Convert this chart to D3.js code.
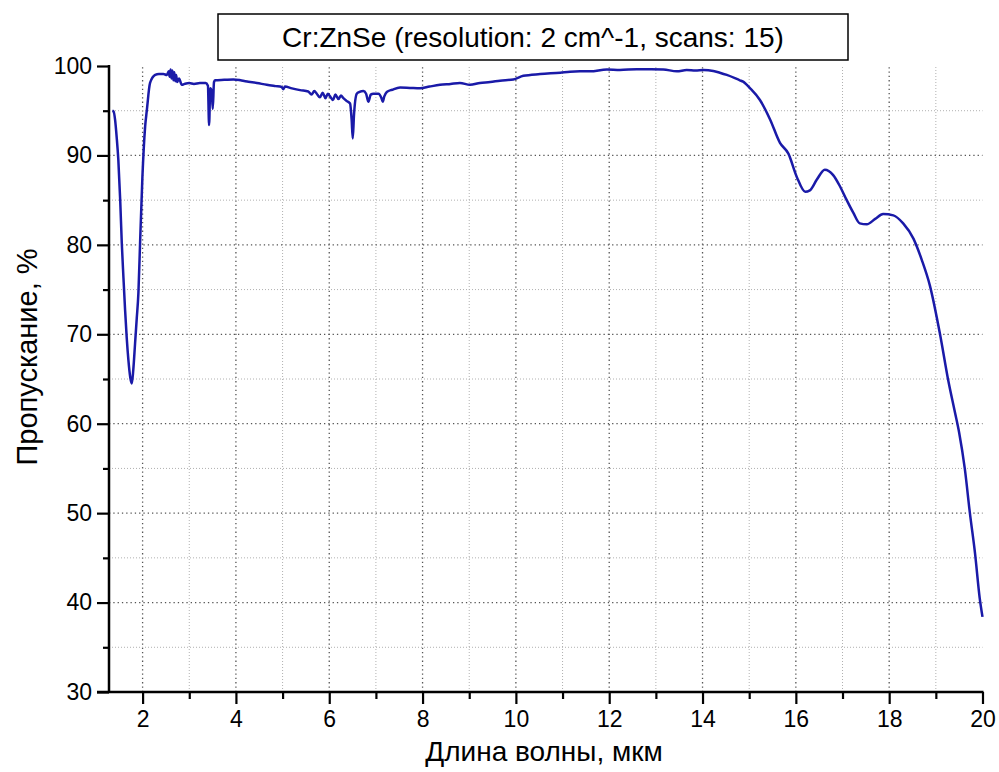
<!DOCTYPE html>
<html><head><meta charset="utf-8">
<script src="https://cdn.jsdelivr.net/npm/d3@7"></script>
<style>body{margin:0;background:#fff;} text{font-family:"Liberation Sans",Arial,sans-serif;}</style>
</head><body>
<svg id="c" width="999" height="772"></svg>
<script>
const titleText = "Cr:ZnSe (resolution: 2 cm^-1, scans: 15)";
const xTitle = "Длина волны, мкм";
const yTitle = "Пропускание, %";
const xMajorTicks = [2,4,6,8,10,12,14,16,18,20];
const xMinorTicks = [3,5,7,9,11,13,15,17,19];
const yMajorTicks = [30,40,50,60,70,80,90,100];
const yMinorTicks = [35,45,55,65,75,85,95];
const wavelength = [
1.353,1.38,1.41,1.445,1.48,1.52,1.554,1.59,1.625,1.66,1.696,1.735,1.769,1.80,1.839,1.875,1.91,1.946,1.996,2.054,2.09,2.16,2.27,2.35,2.446,
2.52,2.56,2.58,2.60,2.62,2.64,2.66,2.68,2.70,2.72,2.74,2.78,2.84,2.9,3.0,3.1,3.23,3.35,3.40,3.425,3.45,3.48,3.504,3.53,3.553,3.75,3.946,
4.1,4.2,4.267,4.45,4.661,4.85,4.98,5.017,5.05,5.2,5.375,5.55,5.62,5.68,5.733,5.8,5.86,5.92,5.97,6.018,6.08,6.13,6.2,6.25,6.303,6.37,6.446,
6.48,6.504,6.53,6.59,6.65,6.731,6.79,6.838,6.89,6.946,7.053,7.12,7.147,7.18,7.233,7.35,7.518,7.73,7.946,8.15,8.375,8.6,8.80,9.016,9.23,
9.45,9.66,9.945,10.16,10.52,10.95,11.16,11.375,11.59,11.95,12.23,12.59,12.9,13.16,13.45,13.66,13.85,14.02,14.23,14.37,14.52,14.80,14.87,
15.02,15.23,15.45,15.66,15.84,16.02,16.20,16.30,16.45,16.62,16.80,16.95,17.09,17.23,17.37,17.52,17.70,17.87,18.09,18.30,18.52,18.7,
18.87,19.09,19.26,19.40,19.50,19.62,19.73,19.84,19.94,20.0];
const transmission = [
95.0,94.9,94.0,92.0,89.5,85.0,80.2,76.3,72.7,69.6,67.1,65.2,64.5,66.0,69.0,71.8,74.6,80.2,87.6,93.2,95.0,98.1,99.0,99.1,99.1,
99.0,99.4,98.8,99.6,98.6,99.5,98.4,99.3,98.3,99.0,98.2,98.6,97.9,98.0,98.1,98.0,98.1,98.1,97.8,93.4,97.5,97.2,95.2,98.2,98.4,98.45,98.5,
98.4,98.3,98.25,98.1,97.9,97.75,97.65,97.4,97.7,97.5,97.3,97.15,96.8,97.2,96.9,96.5,97.0,96.4,96.9,96.6,96.2,96.8,96.3,96.7,96.4,96.1,95.8,
94.0,91.9,94.5,96.9,97.1,97.2,96.9,96.0,96.8,96.9,96.9,96.4,96.0,96.6,97.1,97.35,97.6,97.55,97.5,97.7,97.9,98.0,98.1,97.9,98.1,
98.2,98.36,98.5,98.9,99.1,99.25,99.35,99.4,99.4,99.6,99.55,99.65,99.65,99.62,99.4,99.55,99.5,99.55,99.45,99.25,99.0,98.4,98.25,
97.5,96.2,94.0,91.4,90.2,87.6,85.95,86.1,87.3,88.4,87.8,86.5,85.0,83.6,82.4,82.3,82.9,83.45,83.3,82.4,80.7,78.3,
75.5,70.0,65.0,61.5,59.0,55.0,50.0,45.5,40.5,38.4];

const svg = d3.select("#c");
const x = d3.scaleLinear().domain([1.28, 20]).range([109, 982.5]);
const y = d3.scaleLinear().domain([30, 100]).range([692, 66]);

// grid
const g = svg.append("g");
g.selectAll(".vmin").data(xMinorTicks).join("line")
  .attr("x1", d => x(d)).attr("x2", d => x(d)).attr("y1", y(30)).attr("y2", y(100))
  .attr("stroke", "#b0b0b0").attr("stroke-width", 1).attr("stroke-dasharray", "1,2");
g.selectAll(".vmaj").data(xMajorTicks.filter(d => d < 20)).join("line")
  .attr("x1", d => x(d)).attr("x2", d => x(d)).attr("y1", y(30)).attr("y2", y(100))
  .attr("stroke", "#555").attr("stroke-width", 1.3).attr("stroke-dasharray", "1.3,3");
g.selectAll(".hmin").data(yMinorTicks).join("line")
  .attr("x1", x.range()[0]).attr("x2", x.range()[1]).attr("y1", d => y(d)).attr("y2", d => y(d))
  .attr("stroke", "#b0b0b0").attr("stroke-width", 1).attr("stroke-dasharray", "1,2");
g.selectAll(".hmaj").data(yMajorTicks.filter(d => d > 30 && d < 100)).join("line")
  .attr("x1", x.range()[0]).attr("x2", x.range()[1]).attr("y1", d => y(d)).attr("y2", d => y(d))
  .attr("stroke", "#555").attr("stroke-width", 1.3).attr("stroke-dasharray", "1.3,3");

// data line
const line = d3.line().x((d, i) => x(wavelength[i])).y(d => y(d)).curve(d3.curveMonotoneX);
svg.append("path").datum(transmission).attr("d", line)
  .attr("fill", "none").attr("stroke", "#1a1aa8").attr("stroke-width", 2.5).attr("stroke-linejoin", "round");

// axes
const xAxis = d3.axisBottom(x).tickValues(xMajorTicks).tickSize(12).tickPadding(7).tickFormat(d3.format("d"));
const xg = svg.append("g").attr("transform", `translate(0,${y(30)})`).call(xAxis);
const xMinor = d3.axisBottom(x).tickValues(xMinorTicks).tickSize(7).tickFormat("");
const xmg = svg.append("g").attr("transform", `translate(0,${y(30)})`).call(xMinor);
const yAxis = d3.axisLeft(y).tickValues(yMajorTicks).tickSize(12).tickPadding(5).tickFormat(d3.format("d"));
const yg = svg.append("g").attr("transform", `translate(${x(1.28)},0)`).call(yAxis);
const yMinor = d3.axisLeft(y).tickValues(yMinorTicks).tickSize(6).tickFormat("");
const ymg = svg.append("g").attr("transform", `translate(${x(1.28)},0)`).call(yMinor);
[xg, xmg, yg, ymg].forEach(a => {
  a.select(".domain").remove();
  a.selectAll(".tick line").attr("stroke", "#000").attr("stroke-width", 2.2);
  a.selectAll("text").attr("font-size", 23).attr("fill", "#000").attr("font-family", "Liberation Sans, Arial, sans-serif");
});
svg.append("line").attr("x1", 97).attr("x2", x(20) + 1).attr("y1", y(30)).attr("y2", y(30))
  .attr("stroke", "#000").attr("stroke-width", 2.5);
svg.append("line").attr("x1", x(1.28)).attr("x2", x(1.28)).attr("y1", y(100) - 1).attr("y2", y(30))
  .attr("stroke", "#000").attr("stroke-width", 2.5);

// titles
svg.append("text").attr("x", 544).attr("y", 761).attr("text-anchor", "middle")
  .attr("font-size", 28).text(xTitle);
svg.append("text").attr("transform", "translate(37,357) rotate(-90)").attr("text-anchor", "middle")
  .attr("font-size", 29).text(yTitle);
svg.append("rect").attr("x", 218).attr("y", 14).attr("width", 630).attr("height", 46)
  .attr("fill", "#fff").attr("stroke", "#000").attr("stroke-width", 1.5);
svg.append("text").attr("x", 533).attr("y", 47).attr("text-anchor", "middle")
  .attr("font-size", 28).text(titleText);
</script>
</body></html>
